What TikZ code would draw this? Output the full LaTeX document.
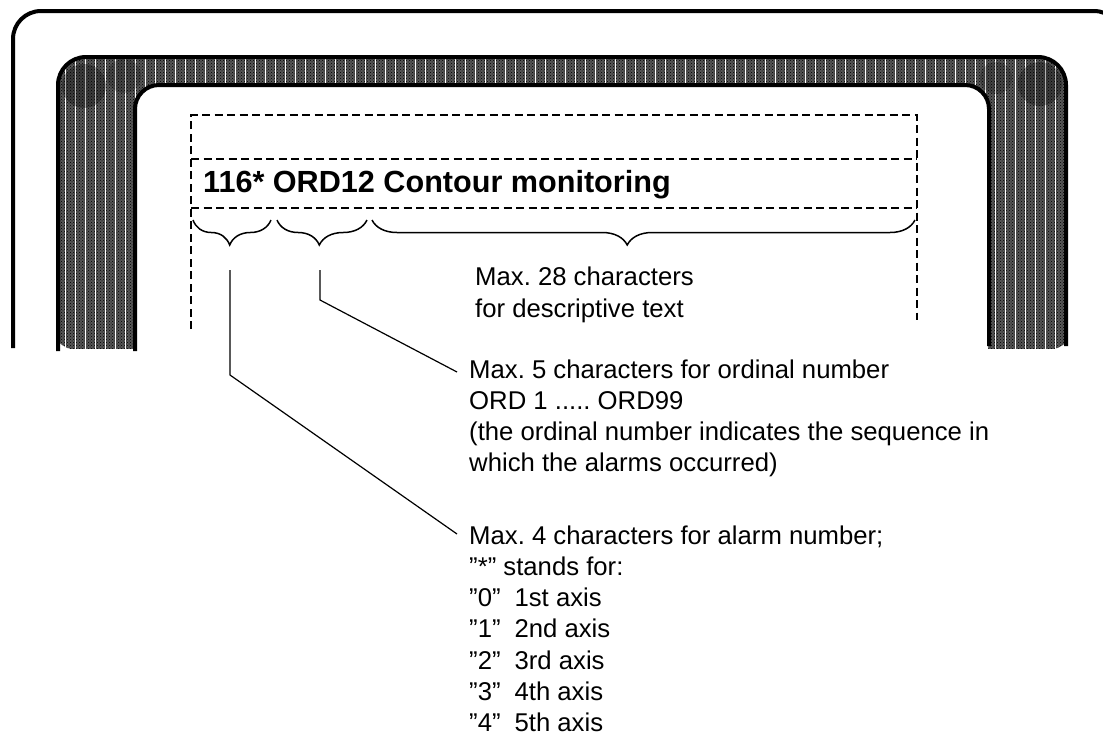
\documentclass[tikz,border=0pt]{standalone}
\usepackage{fontspec}
\setmainfont{Liberation Sans}
\usetikzlibrary{decorations.pathreplacing,patterns}
\frenchspacing
\begin{document}
\begin{tikzpicture}[x=1pt,y=-1pt,
  txt/.style={anchor=base west, inner sep=0pt, font=\fontsize{25.7}{30}\selectfont\frenchspacing},
  head/.style={anchor=base west, inner sep=0pt, font=\fontsize{30.6}{36}\selectfont\bfseries},
  dsh/.style={dash pattern=on 8pt off 4.5pt, line width=1.4pt},
  brc/.style={decorate, decoration={brace, mirror, amplitude=25pt, aspect=0.47}, line width=1.5pt},
  lead/.style={line width=1.2pt},
  frame/.style={line width=4pt}]
\useasboundingbox (0,0) rectangle (1103,740);
% outer housing
\draw[frame, rounded corners=28] (13,348) -- (13,11) -- (1122,11) -- (1122,348);
% bezel band
\begin{scope}
  \clip (0,0) rectangle (1103,348);
  \begin{scope}[rounded corners=28]
    \clip (57,57) rectangle (1067,420);
    \fill[black!66] (50,50) rectangle (1075,350);
    \fill[pattern=crosshatch dots, pattern color=black] (50,50) rectangle (1075,350);
    \foreach \k in {0,...,100} {
      \draw[white, line width=0.9pt, sharp corners] (65+10*\k,50) -- (65+10*\k,350);
    }
    \fill[black, opacity=0.3] (84,86) circle (22);
    \fill[black, opacity=0.2] (124,76) circle (17);
    \fill[black, opacity=0.3] (1040,84) circle (22);
    \fill[black, opacity=0.2] (996,78) circle (16);
  \end{scope}
  \fill[white, rounded corners=24] (136,85) rectangle (988,440);
\end{scope}
\draw[frame, rounded corners=28] (58,351) -- (58,57) -- (1066,57) -- (1066,346);
\draw[frame, rounded corners=24] (135,351) -- (135,85) -- (989,85) -- (989,346);
% dashed display field
\draw[dsh] (191,329) -- (191,115) -- (917,115) -- (917,320);
\draw[dsh] (191,159) -- (917,159);
\draw[dsh] (191,208) -- (917,208);
% headline
\node[head] (hl) at (203,192) {116* ORD12 Contour monitoring};
% braces
\draw[brc] (193,220) -- (271,220);
\draw[brc] (277,220) -- (367,220);
\draw[brc] (372,220) -- (915,220);
% texts
\node[txt] (d1) at (475,285) {Max. 28 characters};
\node[txt] (d2) at (475,317) {for descriptive text};
\node[txt] (m5a) at (469,378) {Max. 5 characters for ordinal number};
\node[txt] (m5b) at (469,409.3) {ORD 1 ..... ORD99};
\node[txt] (m5c) at (469,440.6) {(the ordinal number indicates the sequence in};
\node[txt] (m5d) at (469,471.9) {which the alarms occurred)};
\node[txt] (m4a) at (469,544) {Max. 4 characters for alarm number;};
\node[txt] (m4b) at (469,575.3) {”*” stands for:};
\node[txt] (m4c) at (469,606.6) {”0”\hspace{14pt}1st axis};
\node[txt] (m4d) at (469,637.9) {”1”\hspace{14pt}2nd axis};
\node[txt] (m4e) at (469,669.2) {”2”\hspace{14pt}3rd axis};
\node[txt] (m4f) at (469,700.5) {”3”\hspace{14pt}4th axis};
\node[txt] (m4g) at (469,731.8) {”4”\hspace{14pt}5th axis};
% leaders
\coordinate (l2a) at (320,270);
\coordinate (l2b) at (320,300);
\draw[lead] (l2a) -- (l2b) -- ([shift={(-12,-6)}]m5a.base west);
\coordinate (l1a) at (230,270);
\coordinate (l1b) at (230,375);
\draw[lead] (l1a) -- (l1b) -- ([shift={(-12,-10)}]m4a.base west);
\end{tikzpicture}
\end{document}
